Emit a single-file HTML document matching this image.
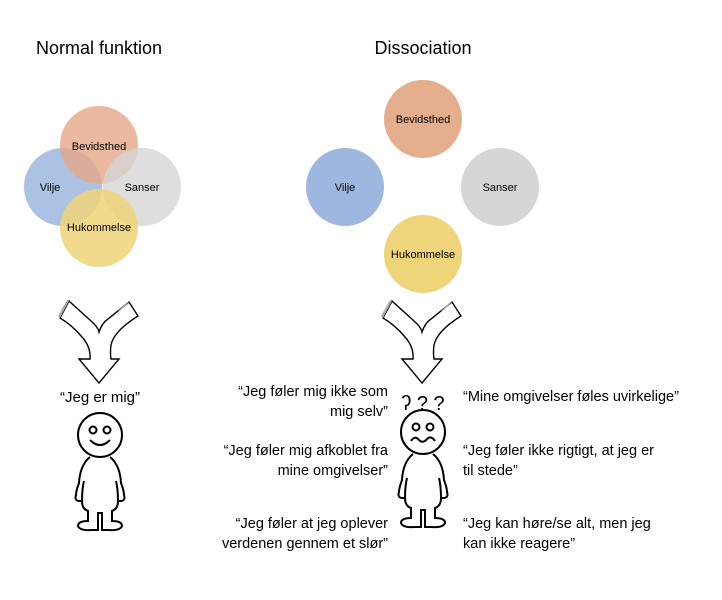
<!DOCTYPE html>
<html><head><meta charset="utf-8"><style>
body{margin:0;background:#fff;}
svg{display:block;font-family:"Liberation Sans",sans-serif;}
</style></head><body>
<svg width="722" height="600" viewBox="0 0 722 600">
<defs>
<g id="arrow">
<path d="M-40,15 L-31,-2 L-9,18 Q-2,24 -1,29 Q2,20 8,16 L29,-1 L38,13 Q14,28 11,42 Q10,50 11,56 L19,56 L-1,80 L-21,56 L-10,56 Q-9,44 -18,34 Q-28,22 -40,15 Z" fill="#fff" stroke="#000" stroke-width="1.4"/>
<path d="M-42,13 L-33,-3 L-31,-2 L-40,15 Z M27,-1 L29,-1 L20,8 L18,8Z" fill="#aaa"/>
</g>
<g id="fig" fill="#fff" stroke="#000" stroke-width="2">
<path d="M-10,22 Q-20,30 -21,48 Q-24,56 -24,60 Q-26,66 -20,66 L-18,66 Q-18,74 -12,76 L-12,86 Q-22,86 -22,91 Q-20,96 -8,95 L-2,95 L-2,78 L2,78 L2,95 L8,95 Q20,96 22,91 Q22,86 12,86 L12,76 Q18,74 18,66 L20,66 Q26,66 24,60 Q24,56 21,48 Q20,30 10,22"/>
<path d="M-18,66 Q-18,54 -16,46 M18,66 Q18,54 16,46" fill="none"/>
<circle cx="0" cy="0" r="22"/>
</g>
</defs>
<text x="99" y="54" font-size="18" text-anchor="middle">Normal funktion</text>
<text x="423" y="54" font-size="18" text-anchor="middle">Dissociation</text>
<g font-size="11" text-anchor="middle">
<circle cx="63" cy="187" r="39" fill="#9db7df" fill-opacity="0.85"/>
<circle cx="99" cy="145" r="39" fill="#e5a888" fill-opacity="0.8"/>
<circle cx="142" cy="187" r="39" fill="#d6d6d6" fill-opacity="0.8"/>
<circle cx="99" cy="228" r="39" fill="#f0d479" fill-opacity="0.85"/>
<text x="50" y="191">Vilje</text><text x="99" y="150">Bevidsthed</text><text x="142" y="191">Sanser</text><text x="99" y="231">Hukommelse</text>
<circle cx="345" cy="187" r="39" fill="#9db7df"/>
<circle cx="423" cy="119" r="39" fill="#e5ae8c"/>
<circle cx="500" cy="187" r="39" fill="#d6d6d6"/>
<circle cx="423" cy="254" r="39" fill="#f0d479"/>
<text x="345" y="191">Vilje</text><text x="423" y="123">Bevidsthed</text><text x="500" y="191">Sanser</text><text x="423" y="258">Hukommelse</text>
</g>
<use href="#arrow" transform="translate(100,303)"/>
<use href="#arrow" transform="translate(423,303)"/>
<text x="100" y="402" font-size="15" text-anchor="middle">“Jeg er mig”</text>
<use href="#fig" transform="translate(100,435)"/>
<use href="#fig" transform="translate(423,432)"/>
<g fill="none" stroke="#000" stroke-width="2">
<circle cx="93" cy="430" r="3.5"/><circle cx="107" cy="430" r="3.5"/>
<path d="M90,440 Q100,450 110,440"/>
<circle cx="416" cy="427" r="3.5"/><circle cx="430" cy="427" r="3.5"/>
<path d="M411,441 Q415,435 419,440 Q423,444 427,439 Q431,435 435,441"/>
</g>
<text x="423" y="410" font-size="20" text-anchor="middle">ʔ ? ?</text>
<g font-size="14.5" text-anchor="end">
<text x="388" y="396">“Jeg føler mig ikke som</text><text x="388" y="416">mig selv”</text>
<text x="388" y="455">“Jeg føler mig afkoblet fra</text><text x="388" y="475">mine omgivelser”</text>
<text x="388" y="528">“Jeg føler at jeg oplever</text><text x="388" y="548">verdenen gennem et slør”</text>
</g>
<g font-size="14.5">
<text x="463" y="401">“Mine omgivelser føles uvirkelige”</text>
<text x="463" y="455">“Jeg føler ikke rigtigt, at jeg er</text><text x="463" y="475">til stede”</text>
<text x="463" y="528">“Jeg kan høre/se alt, men jeg</text><text x="463" y="548">kan ikke reagere”</text>
</g>
</svg>
</body></html>
